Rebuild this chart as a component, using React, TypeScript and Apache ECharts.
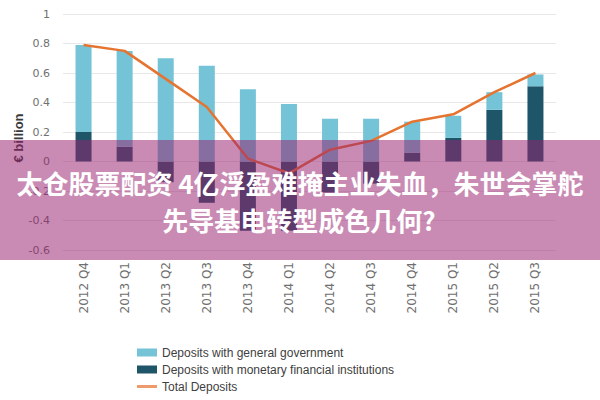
import React, { useEffect, useRef } from "react";
import * as echarts from "echarts";

const categories = [
  "2012 Q4", "2013 Q1", "2013 Q2", "2013 Q3", "2013 Q4", "2014 Q1",
  "2014 Q2", "2014 Q3", "2014 Q4", "2015 Q1", "2015 Q2", "2015 Q3",
];
const mfiDeposits = [0.2, 0.1, -0.14, -0.28, -0.47, -0.47, -0.21, -0.15, 0.06, 0.16, 0.35, 0.51];
const govDeposits = [0.59, 0.65, 0.7, 0.65, 0.49, 0.39, 0.29, 0.29, 0.21, 0.15, 0.12, 0.08];
const totalDeposits = [0.79, 0.75, 0.56, 0.37, 0.02, -0.08, 0.08, 0.14, 0.27, 0.32, 0.47, 0.6];
const titleLines = ["太仓股票配资 4亿浮盈难掩主业失血，朱世会掌舵", "先导基电转型成色几何?"];
const yAxisName = "€ billion";

export default function App() {
  const ref = useRef<HTMLDivElement>(null);
  useEffect(() => {
    if (!ref.current) return;
    const chart = echarts.init(ref.current, undefined, { renderer: "svg" });
    chart.setOption({
      animation: false,
      backgroundColor: "#ffffff",
      grid: { left: 63, right: 44, top: 14, bottom: 150 },
      xAxis: {
        type: "category",
        data: categories,
        axisLine: { show: false, onZero: false },
        axisTick: { show: false },
        axisLabel: {
          rotate: 90,
          margin: 12,
          color: "#707070",
          fontSize: 12,
          fontFamily: "DejaVu Sans",
        },
      },
      yAxis: {
        type: "value",
        min: -0.6,
        max: 1,
        interval: 0.2,
        axisLine: { show: false },
        axisTick: { show: false },
        axisLabel: { color: "#707070", fontSize: 11, fontFamily: "DejaVu Sans", margin: 13 },
        splitLine: { lineStyle: { color: "#e8e8e8", width: 1 } },
      },
      legend: {
        orient: "vertical",
        left: 132,
        top: 341,
        itemWidth: 20,
        itemHeight: 8,
        itemGap: 4,
        textStyle: { color: "#404040", fontSize: 12, fontFamily: "Liberation Sans", lineHeight: 13 },
        data: [
          { name: "Deposits with general government", icon: "rect" },
          { name: "Deposits with monetary financial institutions", icon: "rect" },
          { name: "Total Deposits", icon: "path://M0,0 L20,0 L20,3 L0,3 Z" },
        ],
      },
      series: [
        {
          name: "Deposits with monetary financial institutions",
          type: "bar",
          stack: "dep",
          barWidth: 16,
          itemStyle: { color: "#1f5569" },
          data: mfiDeposits,
        },
        {
          name: "Deposits with general government",
          type: "bar",
          stack: "dep",
          barWidth: 16,
          itemStyle: { color: "#74c3d7" },
          data: govDeposits,
        },
        {
          name: "Total Deposits",
          type: "line",
          symbol: "none",
          lineStyle: { color: "#e57430", width: 2.5 },
          itemStyle: { color: "#ef9a6c" },
          data: totalDeposits,
          z: 5,
        },
      ],
      graphic: [
        {
          type: "text",
          z: 50,
          x: 18,
          y: 138,
          rotation: Math.PI / 2,
          style: {
            text: yAxisName,
            fill: "#3a3a3a",
            font: "bold 13px 'Liberation Sans'",
            textAlign: "center",
            textVerticalAlign: "middle",
          },
        },
        {
          type: "rect",
          z: 100,
          shape: { x: 0, y: 140, width: 600, height: 120 },
          style: { fill: "rgba(152,33,111,0.52)" },
        },
        {
          type: "text",
          z: 101,
          x: 300,
          y: 182,
          style: {
            text: titleLines[0],
            fill: "#ffffff",
            font: "bold 26px 'Noto Sans CJK SC'",
            textAlign: "center",
            textVerticalAlign: "middle",
          },
        },
        {
          type: "text",
          z: 101,
          x: 299,
          y: 219,
          style: {
            text: titleLines[1],
            fill: "#ffffff",
            font: "bold 26px 'Noto Sans CJK SC'",
            textAlign: "center",
            textVerticalAlign: "middle",
          },
        },
      ],
    });
    return () => chart.dispose();
  }, []);
  return <div ref={ref} style={{ width: 600, height: 400, position: "absolute", left: 0, top: 0 }} />;
}
